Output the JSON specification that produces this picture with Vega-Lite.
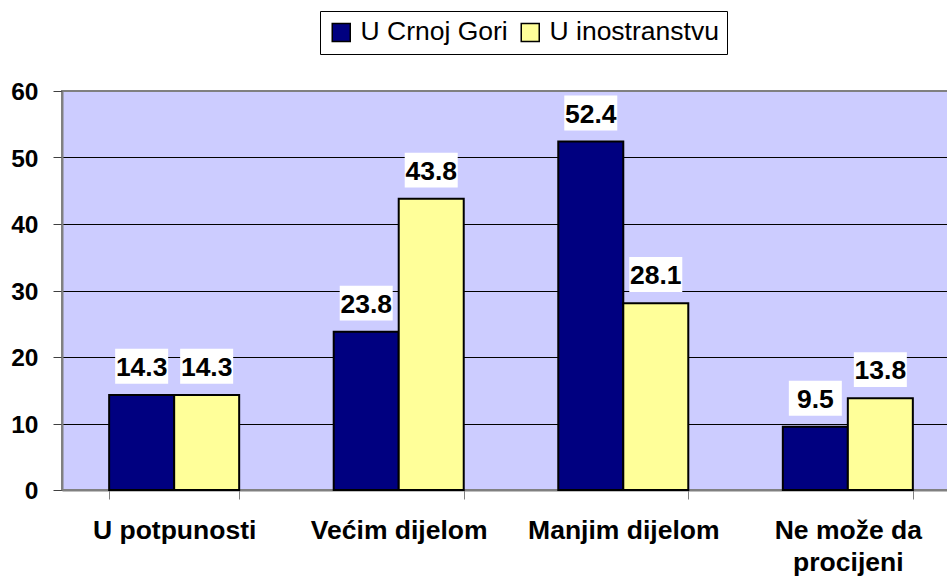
{
  "$schema": "https://vega.github.io/schema/vega-lite/v6.json",
  "width": 898,
  "height": 399,
  "autosize": {"type": "none"},
  "padding": {"left": 62, "top": 91, "right": 0, "bottom": 87},
  "background": "white",
  "config": {
    "view": {"stroke": "#808080", "strokeWidth": 2, "fill": "#CCCCFF"},
    "font": "Liberation Sans"
  },
  "data": {
    "values": [
      {"kat": "U potpunosti", "grupa": "U Crnoj Gori", "v": 14.3},
      {"kat": "U potpunosti", "grupa": "U inostranstvu", "v": 14.3},
      {"kat": "Većim dijelom", "grupa": "U Crnoj Gori", "v": 23.8},
      {"kat": "Većim dijelom", "grupa": "U inostranstvu", "v": 43.8},
      {"kat": "Manjim dijelom", "grupa": "U Crnoj Gori", "v": 52.4},
      {"kat": "Manjim dijelom", "grupa": "U inostranstvu", "v": 28.1},
      {"kat": "Ne može da procijeni", "grupa": "U Crnoj Gori", "v": 9.5},
      {"kat": "Ne može da procijeni", "grupa": "U inostranstvu", "v": 13.8}
    ]
  },
  "encoding": {
    "x": {
      "field": "kat",
      "type": "nominal",
      "sort": null,
      "scale": {"paddingInner": 0.421, "paddingOuter": 0.21},
      "axis": {
        "title": null,
        "labelAngle": 0,
        "labelFont": "Liberation Sans",
        "labelFontSize": 26.5,
        "labelFontWeight": "bold",
        "labelColor": "black",
        "labelLimit": 400,
        "labelPadding": 18,
        "labelLineHeight": 32,
        "labelExpr": "datum.value == 'Ne može da procijeni' ? ['Ne može da', 'procijeni'] : datum.value",
        "tickBand": "extent",
        "tickColor": "#808080",
        "tickSize": 9,
        "domainColor": "#808080",
        "domainWidth": 2
      }
    },
    "xOffset": {
      "field": "grupa",
      "type": "nominal",
      "sort": ["U Crnoj Gori", "U inostranstvu"],
      "scale": {"paddingInner": 0, "paddingOuter": 0}
    },
    "y": {
      "field": "v",
      "type": "quantitative",
      "scale": {"domain": [0, 60], "nice": false},
      "axis": {
        "title": null,
        "values": [0, 10, 20, 30, 40, 50, 60],
        "labelFont": "Liberation Sans",
        "labelFontSize": 24.5,
        "labelFontWeight": "bold",
        "labelColor": "black",
        "labelPadding": 15,
        "labelOffset": 1.5,
        "tickSize": 9,
        "tickColor": "#404040",
        "domainColor": "#808080",
        "domainWidth": 2,
        "gridColor": "black",
        "gridOpacity": {"condition": {"test": "datum.value == 0 || datum.value == 60", "value": 0}, "value": 1}
      }
    }
  },
  "layer": [
    {
      "mark": {"type": "bar", "stroke": "black", "strokeWidth": 2},
      "encoding": {
        "color": {
          "field": "grupa",
          "type": "nominal",
          "scale": {"domain": ["U Crnoj Gori", "U inostranstvu"], "range": ["#000080", "#FFFF99"]},
          "legend": {
            "title": null,
            "orient": "none",
            "legendX": 258,
            "legendY": -80,
            "direction": "horizontal",
            "strokeColor": "black",
            "fillColor": "white",
            "padding": 8,
            "symbolType": "square",
            "symbolSize": 324,
            "symbolStrokeColor": "black",
            "symbolStrokeWidth": 1.5,
            "symbolOpacity": 1,
            "labelFont": "Liberation Sans",
            "labelFontSize": 26.5,
            "labelColor": "black",
            "labelLimit": 400,
            "labelOffset": 6,
            "columnPadding": 9
          }
        }
      }
    },
    {
      "mark": {
        "type": "point",
        "shape": "M-1,-0.66H1V0.66H-1Z",
        "size": 2809,
        "filled": true,
        "fill": "white",
        "opacity": 1,
        "strokeWidth": 0,
        "yOffset": -28.6
      }
    },
    {
      "mark": {
        "type": "text",
        "font": "Liberation Sans",
        "fontSize": 26.5,
        "fontWeight": "bold",
        "color": "black",
        "baseline": "alphabetic",
        "yOffset": -19
      },
      "encoding": {"text": {"field": "v", "type": "quantitative", "format": ".1f"}}
    }
  ]
}
